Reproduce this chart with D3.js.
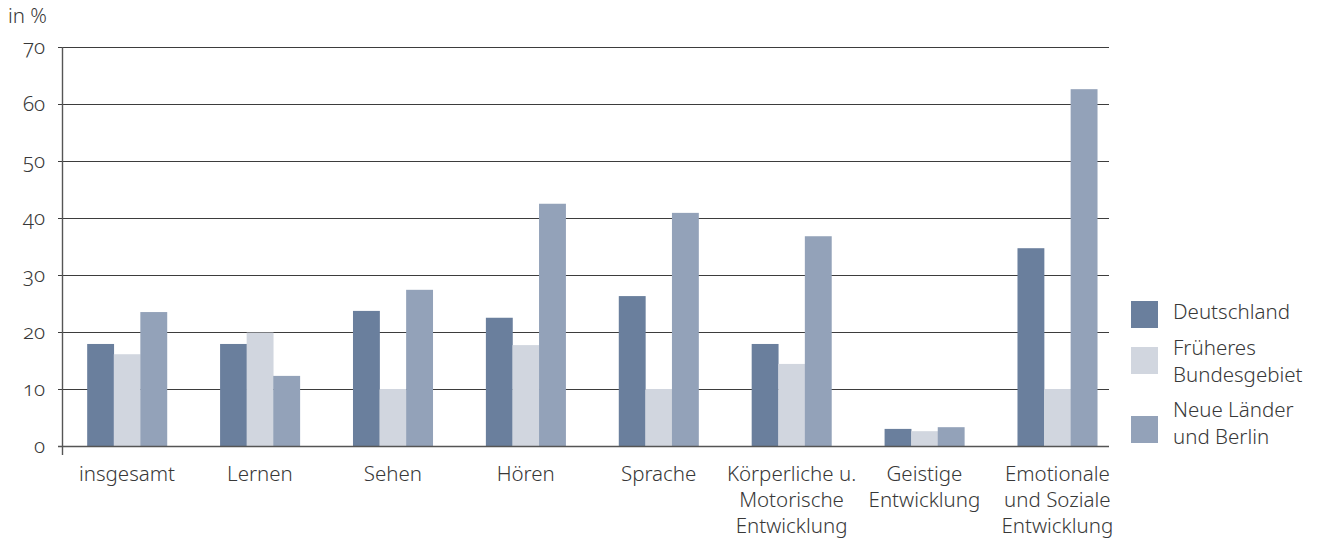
<!DOCTYPE html>
<html lang="de">
<head>
<meta charset="utf-8">
<script src="https://cdn.jsdelivr.net/npm/d3@7"></script>
<style>
  html, body { margin: 0; padding: 0; background: #ffffff; }
  svg { display: block; font-family: "Noto Sans", "Open Sans", sans-serif; font-weight: 300; font-variant-numeric: oldstyle-nums; }
</style>
</head>
<body>
<svg id="chart" width="1321" height="542"></svg>
<script>
// Förderschwerpunkte (mehrzeilige Beschriftungen)
const categories = [
  ["insgesamt"],
  ["Lernen"],
  ["Sehen"],
  ["Hören"],
  ["Sprache"],
  ["Körperliche u.", "Motorische", "Entwicklung"],
  ["Geistige", "Entwicklung"],
  ["Emotionale", "und Soziale", "Entwicklung"]
];

const seriesNames = [["Deutschland"], ["Früheres", "Bundesgebiet"], ["Neue Länder", "und Berlin"]];

// Anteile in %
const deutschland   = [17.9, 17.9, 23.7, 22.5, 26.3, 17.9, 3.0, 34.7];
const frueheres     = [16.1, 19.9, 10.0, 17.7, 10.0, 14.4, 2.6, 10.0];
const neueLaender   = [23.5, 12.3, 27.4, 42.5, 40.9, 36.8, 3.3, 62.6];

const yTicks = [0, 10, 20, 30, 40, 50, 60, 70];
const yUnit = "in %";

const colors = ["#6a7f9d", "#d1d6df", "#93a2b9"];

const series = [deutschland, frueheres, neueLaender];
const keys = categories.map(c => c.join(" "));

const svg = d3.select("#chart");
const plotLeft = 62, plotRight = 1109, plotTop = 47, plotBottom = 446;

const x = d3.scaleBand()
  .domain(keys)
  .range([60.6, 1123.8])
  .paddingInner(0.4)
  .paddingOuter(0.2);

const xs = d3.scaleBand()
  .domain(d3.range(series.length))
  .range([0, x.bandwidth()]);

const y = d3.scaleLinear().domain([0, 70]).range([plotBottom, plotTop]);

const textColor = "#383838";
const lineColor = "#3d3d3d";
const fontSize = 20.5;

// Gitterlinien
svg.append("g")
  .selectAll("line")
  .data(yTicks)
  .join("line")
  .attr("x1", plotLeft - 4)
  .attr("x2", plotRight)
  .attr("y1", d => Math.round(y(d)) + 0.5)
  .attr("y2", d => Math.round(y(d)) + 0.5)
  .attr("stroke", lineColor)
  .attr("stroke-width", 1.2);

// Balken
const groups = svg.append("g")
  .selectAll("g")
  .data(keys)
  .join("g")
  .attr("transform", d => `translate(${x(d)},0)`);

groups.selectAll("rect")
  .data((k, i) => series.map((s, j) => ({ j, v: s[i] })))
  .join("rect")
  .attr("x", d => xs(d.j))
  .attr("width", xs.bandwidth() + 0.3)
  .attr("y", d => y(d.v))
  .attr("height", d => y(0) - y(d.v))
  .attr("fill", d => colors[d.j]);

// Nulllinie über den Balken
svg.append("line")
  .attr("x1", plotLeft - 4).attr("x2", plotRight)
  .attr("y1", Math.round(y(0)) + 0.5).attr("y2", Math.round(y(0)) + 0.5)
  .attr("stroke", "#555").attr("stroke-width", 1.4);

// y-Achse
svg.append("line")
  .attr("x1", plotLeft + 0.5).attr("x2", plotLeft + 0.5)
  .attr("y1", plotTop).attr("y2", plotBottom + 9)
  .attr("stroke", "#555").attr("stroke-width", 1.4);

svg.append("g")
  .selectAll("text")
  .data(yTicks)
  .join("text")
  .attr("x", 45)
  .attr("y", d => y(d))
  .attr("dy", "0.33em")
  .attr("text-anchor", "end")
  .attr("fill", textColor)
  .attr("font-size", fontSize)
  .text(d => d);

svg.append("text")
  .attr("x", 8).attr("y", 23)
  .attr("fill", textColor)
  .attr("font-size", fontSize)
  .text(yUnit);

// x-Beschriftungen
const xl = svg.append("g")
  .selectAll("text")
  .data(categories)
  .join("text")
  .attr("x", d => x(d.join(" ")) + x.bandwidth() / 2)
  .attr("y", 481)
  .attr("text-anchor", "middle")
  .attr("fill", textColor)
  .attr("font-size", fontSize);
xl.selectAll("tspan")
  .data(d => d)
  .join("tspan")
  .attr("x", function () { return d3.select(this.parentNode).attr("x"); })
  .attr("dy", (d, i) => i === 0 ? 0 : 26)
  .text(d => d);

// Legende
const legendSwatchY = [301, 347, 416];
const legendTextY = [319, 355, 417];
const lg = svg.append("g");
seriesNames.forEach((name, i) => {
  lg.append("rect")
    .attr("x", 1131).attr("y", legendSwatchY[i])
    .attr("width", 27).attr("height", 27)
    .attr("fill", colors[i]);
  const t = lg.append("text")
    .attr("x", 1173).attr("y", legendTextY[i])
    .attr("fill", textColor)
    .attr("font-size", fontSize);
  name.forEach((line, k) => {
    t.append("tspan").attr("x", 1173).attr("dy", k === 0 ? 0 : 26.5).text(line);
  });
});
</script>
</body>
</html>
